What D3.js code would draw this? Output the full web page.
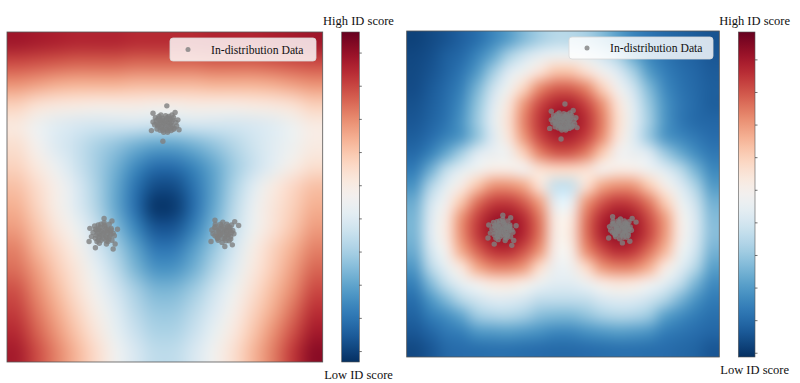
<!DOCTYPE html>
<html><head><meta charset="utf-8">
<script src="https://cdn.jsdelivr.net/npm/d3@7/dist/d3.min.js"></script>
<style>body{margin:0;background:#fff}svg{display:block}</style>
</head><body>
<svg id="chart" width="800" height="383"></svg>
<script>
// ---------------- data ----------------
const xDomain = [-4, 4];
const yDomain = [-4, 4];
const colorbarTicks = [0, 1, 2, 3, 4, 5, 6, 7, 8, 9];
const leftScoreDomain = [-0.33, 9.62];
const rightScoreDomain = [-0.13, 9.84];
const legendLabel = "In-distribution Data";
const highLabel = "High ID score";
const lowLabel = "Low ID score";

// cluster centres (data units)
const clusterCenters = [[0.0, 1.77], [-1.56, -0.88], [1.47, -0.86]];
// sample offsets of each cluster from its centre
const topClusterOffsets = [[0,0],[0.08,0.05],[-0.1,0.04],[0.15,-0.02],[-0.18,-0.05],[0.05,-0.12],[-0.06,0.14],[0.2,0.1],[-0.22,0.08],[0.1,0.18],[-0.12,-0.15],[0.24,-0.1],[-0.26,-0.02],[0.02,0.2],[0.16,-0.16],[-0.03,-0.2],[0.28,0.04],[-0.15,0.18],[0.12,0.02],[-0.08,-0.06],[0.04,0.1],[-0.2,-0.12],[0.22,0.16],[0.3,-0.05],[-0.3,0.05],[0.07,-0.2],[-0.1,0.22],[0.18,0.22],[-0.24,0.15],[0.33,0.1],[0.05,0.44],[-0.05,-0.42],[0.36,-0.14],[-0.34,-0.16],[0.26,0.28],[-0.3,0.26],
[0.03,-0.03],[-0.04,0.02],[0.1,-0.07],[-0.12,0.09],[0.13,0.11],[-0.14,-0.02],[0.06,0.15],[-0.02,-0.12],[0.19,-0.04],[-0.17,0.12],[0.08,-0.16],[-0.09,-0.1],[0.17,0.05],[0.0,0.08],[-0.07,0.1],[0.11,0.12],[0.22,-0.13],[-0.2,0.0],[0.14,-0.1],[-0.05,-0.15]];
const leftClusterOffsets = [[0,0],[0.1,0.06],[-0.09,-0.04],[0.16,-0.08],[-0.17,0.07],[0.04,0.16],[-0.05,-0.17],[0.2,0.12],[-0.2,-0.12],[0.12,-0.2],[-0.13,0.2],[0.25,0.0],[-0.26,0.02],[0.06,-0.08],[-0.04,0.08],[0.15,0.22],[-0.22,0.18],[0.22,-0.17],[-0.1,-0.24],[0.02,0.26],[0.28,-0.06],[-0.3,-0.08],[0.08,-0.26],[-0.16,-0.2],[0.18,0.04],[-0.12,0.1],[0.25,-0.38],[-0.2,-0.35],[0.22,0.3],[0.02,0.36],[-0.36,-0.2],[0.36,0.1],[-0.34,0.12],[0.3,-0.26],
[0.05,0.03],[-0.06,0.05],[0.09,-0.1],[-0.1,-0.09],[0.13,0.1],[-0.14,0.0],[0.0,-0.12],[0.07,0.12],[-0.08,0.15],[0.18,-0.02],[-0.18,-0.05],[0.1,0.0],[-0.03,-0.05],[0.14,-0.14],[-0.12,-0.16],[0.03,0.2],[0.2,0.08],[-0.2,0.1],[-0.06,0.22],[0.08,-0.18]];
const rightClusterOffsets = [[0,0],[0.09,-0.05],[-0.1,0.06],[0.14,0.1],[-0.15,-0.09],[0.05,-0.15],[-0.04,0.16],[0.2,-0.1],[-0.21,0.12],[0.1,0.2],[-0.12,-0.19],[0.25,0.05],[-0.25,-0.03],[0.04,0.08],[-0.06,-0.06],[0.16,-0.2],[-0.19,0.2],[0.22,0.18],[-0.02,-0.24],[0.0,0.25],[0.28,-0.03],[-0.28,0.06],[0.12,-0.08],[-0.1,0.02],[0.18,0.06],[-0.14,-0.14],[0.4,0.17],[-0.3,-0.22],[0.24,-0.3],[-0.2,0.3],[0.05,-0.34],[0.3,0.26],
[0.04,0.03],[-0.05,-0.03],[0.1,0.05],[-0.1,-0.05],[0.07,-0.1],[-0.08,0.1],[0.15,-0.04],[-0.16,0.04],[0.02,0.13],[-0.01,-0.14],[0.13,0.15],[-0.13,-0.13],[0.18,0.12],[-0.18,0.14],[0.2,-0.16],[0.08,-0.2],[-0.06,0.2],[0.12,0.02],[-0.2,-0.08],[0.22,0.0]];

// ID-score grid, left model (16 rows top->bottom, 16 columns left->right)
const leftScores = [
[8.8,8.7,8.6,8.5,8.5,8.5,8.4,8.4,8.4,8.4,8.5,8.5,8.5,8.6,8.7,8.8],
[7.9,7.8,7.7,7.6,7.6,7.6,7.5,7.5,7.5,7.5,7.6,7.6,7.6,7.7,7.8,7.9],
[6.9,6.7,6.5,6.4,6.4,6.4,6.3,6.3,6.3,6.3,6.4,6.4,6.4,6.5,6.7,6.9],
[5.8,5.4,5.2,5.1,5.0,5.0,5.0,4.9,4.9,5.0,5.0,5.0,5.1,5.2,5.4,5.8],
[5.1,4.5,4.1,3.9,3.8,3.8,3.8,3.7,3.7,3.8,3.8,3.8,3.9,4.1,4.5,5.0],
[5.4,4.7,4.0,3.6,3.1,2.7,2.3,2.0,2.0,2.3,2.7,3.2,3.7,4.1,4.5,5.0],
[5.7,5.1,4.4,3.7,3.0,2.3,1.5,0.9,0.9,1.4,2.1,2.9,3.6,4.2,4.9,5.4],
[6.1,5.5,4.8,4.0,3.1,2.1,1.0,0.2,0.2,1.0,2.0,3.1,4.1,5.0,5.6,6.1],
[6.4,5.7,4.9,4.1,3.2,2.1,0.9,-0.2,-0.1,0.9,2.1,3.3,4.4,5.2,5.8,6.4],
[6.7,6.0,5.2,4.5,3.6,2.5,1.4,0.4,0.4,1.3,2.4,3.5,4.5,5.3,6.0,6.7],
[7.1,6.3,5.6,4.9,3.9,3.0,2.0,1.1,1.1,1.9,2.8,3.8,4.9,5.7,6.4,7.1],
[7.4,6.7,5.9,5.2,4.3,3.4,2.4,1.7,1.7,2.3,3.2,4.1,5.1,5.9,6.7,7.5],
[7.8,7.0,6.2,5.4,4.6,3.8,3.0,2.4,2.4,2.9,3.7,4.5,5.4,6.2,7.0,7.9],
[8.1,7.3,6.5,5.7,4.9,4.1,3.3,2.8,2.8,3.3,4.0,4.8,5.7,6.5,7.4,8.3],
[8.4,7.6,6.8,6.0,5.2,4.3,3.6,3.1,3.1,3.6,4.3,5.1,6.0,6.9,7.8,8.7],
[8.7,7.9,7.1,6.3,5.5,4.6,3.9,3.4,3.4,3.9,4.6,5.4,6.3,7.2,8.2,9.1]
];

// ID-score grid, right model (20 rows top->bottom, 20 columns left->right)
const rightScores = [
[0.2,0.35,0.55,0.8,1.1,1.6,2.1,2.7,3.2,3.5,3.5,3.25,2.75,2.15,1.6,1.25,1.0,0.85,0.7,0.55],
[0.3,0.45,0.75,1.0,1.55,2.25,3.2,3.9,4.4,4.6,4.6,4.4,3.9,3.25,2.3,1.6,1.2,0.95,0.8,0.6],
[0.35,0.55,0.85,1.25,2.0,3.1,4.2,4.8,5.5,6.2,6.2,5.6,4.85,4.2,3.2,2.05,1.45,1.1,0.9,0.7],
[0.4,0.65,1.0,1.5,2.55,3.8,4.8,5.9,7.2,7.8,7.8,7.25,6.0,4.85,3.9,2.65,1.7,1.2,0.95,0.75],
[0.5,0.75,1.1,1.75,2.9,4.2,5.4,7.0,8.15,8.75,8.8,8.2,7.1,5.5,4.3,3.0,1.9,1.3,1.0,0.75],
[0.6,0.85,1.2,1.9,3.05,4.35,5.6,7.3,8.45,9.1,9.1,8.55,7.4,5.7,4.4,3.15,1.95,1.3,1.0,0.9],
[0.75,1.05,1.5,2.0,2.95,4.2,5.4,7.0,8.2,8.8,8.8,8.25,7.15,5.5,4.3,3.05,2.0,1.6,1.3,1.05],
[1.0,1.5,2.3,3.2,4.2,4.6,4.8,6.0,7.3,7.9,7.9,7.35,6.1,4.85,4.6,4.2,3.1,2.35,1.75,1.3],
[1.4,2.4,3.6,4.35,4.8,5.2,5.2,4.9,5.55,5.8,5.8,5.6,5.0,5.25,5.15,4.75,4.25,3.5,2.5,1.65],
[1.9,3.3,4.35,5.2,6.2,7.05,7.1,6.7,5.5,3.8,3.8,5.6,6.75,7.1,7.0,6.1,5.1,4.25,3.25,2.05],
[2.4,3.9,4.85,6.2,7.55,8.25,8.35,7.85,6.85,4.4,4.5,7.0,7.95,8.4,8.2,7.45,6.1,4.75,3.8,2.5],
[2.6,4.15,5.25,7.1,8.25,9.0,9.1,8.6,7.45,5.2,5.3,7.55,8.7,9.15,8.95,8.1,6.95,5.1,4.1,2.75],
[2.6,4.2,5.3,7.15,8.35,9.1,9.2,8.65,7.5,5.2,5.4,7.6,8.8,9.2,9.0,8.2,7.0,5.15,4.1,2.8],
[2.4,3.95,4.95,6.7,7.75,8.45,8.55,8.0,7.0,5.0,5.1,7.15,8.1,8.6,8.4,7.6,6.5,4.8,3.9,2.55],
[2.0,3.45,4.45,5.4,6.7,7.3,7.35,6.95,5.7,4.65,4.75,5.8,7.0,7.35,7.25,6.6,5.3,4.35,3.4,2.15],
[1.5,2.65,3.7,4.45,4.9,5.35,5.4,5.1,4.6,4.3,4.3,4.65,5.15,5.4,5.3,4.85,4.35,3.6,2.55,1.7],
[1.1,1.9,2.65,3.45,3.95,4.25,4.25,4.05,3.65,3.6,3.6,3.7,4.1,4.25,4.2,3.9,3.35,2.55,1.85,1.35],
[0.85,1.35,1.75,2.25,3.05,3.3,3.35,3.15,2.75,2.6,2.6,2.85,3.2,3.35,3.3,3.0,2.15,1.7,1.35,1.1],
[0.6,0.9,1.25,1.45,1.9,2.0,2.05,1.95,1.8,1.6,1.6,1.8,1.95,2.05,2.0,1.85,1.4,1.2,1.05,0.9],
[0.35,0.6,0.95,1.05,1.1,1.15,1.15,1.1,1.05,1.0,1.0,1.05,1.1,1.15,1.15,1.1,1.05,0.95,0.85,0.6]
];

// ---------------- layout ----------------
const FONT = "'Liberation Serif','Times New Roman',Times,serif";
const panels = [
  { id: "L", scores: leftScores, domain: leftScoreDomain,
    plot: { x0: 7, x1: 322.7, y0: 32, y1: 362 },
    cb: { x0: 341.7, x1: 359.3, y0: 32, y1: 362 },
    legend: { x: 170, y: 38, w: 146, h: 23 },
    highY: 25, lowY: 379 },
  { id: "R", scores: rightScores, domain: rightScoreDomain,
    plot: { x0: 406.7, x1: 719.3, y0: 31, y1: 357 },
    cb: { x0: 738.3, x1: 755, y0: 32, y1: 357 },
    legend: { x: 569, y: 37, w: 144, h: 22 },
    highY: 25, lowY: 374 }
];

const svg = d3.select("#chart");
const defs = svg.append("defs");
const points = [topClusterOffsets, leftClusterOffsets, rightClusterOffsets]
  .flatMap((offs, k) => offs.map(([dx, dy]) => ({ x: clusterCenters[k][0] + dx, y: clusterCenters[k][1] + dy })));

panels.forEach(p => {
  const color = d3.scaleSequential(t => d3.interpolateRdBu(1 - t)).domain(p.domain).clamp(true);
  const x = d3.scaleLinear().domain(xDomain).range([p.plot.x0, p.plot.x1]);
  const y = d3.scaleLinear().domain(yDomain).range([p.plot.y1, p.plot.y0]);
  const nr = p.scores.length, nc = p.scores[0].length;
  const gx = d3.scaleLinear().domain([0, nc]).range([p.plot.x0, p.plot.x1]);
  const gy = d3.scaleLinear().domain([0, nr]).range([p.plot.y0, p.plot.y1]);

  // small canvas: one pixel per grid cell
  const small = document.createElement("canvas");
  small.width = nc; small.height = nr;
  const sctx = small.getContext("2d");
  const img = sctx.createImageData(nc, nr);
  p.scores.forEach((row, j) => row.forEach((v, i) => {
    const c = d3.rgb(color(v));
    const o = (j * nc + i) * 4;
    img.data[o] = c.r; img.data[o + 1] = c.g; img.data[o + 2] = c.b; img.data[o + 3] = 255;
  }));
  sctx.putImageData(img, 0, 0);
  const W = Math.round(gx(nc) - gx(0)), H = Math.round(gy(nr) - gy(0));
  const big = document.createElement("canvas");
  big.width = W * 2; big.height = H * 2;
  const bctx = big.getContext("2d");
  bctx.imageSmoothingEnabled = true;
  bctx.imageSmoothingQuality = "high";
  bctx.drawImage(small, 0, 0, W * 2, H * 2);

  const g = svg.append("g");
  g.append("image")
    .attr("x", gx(0)).attr("y", gy(0))
    .attr("width", gx(nc) - gx(0)).attr("height", gy(nr) - gy(0))
    .attr("preserveAspectRatio", "none")
    .attr("href", big.toDataURL());

  // clip for scatter
  defs.append("clipPath").attr("id", "clip" + p.id)
    .append("rect").attr("x", p.plot.x0).attr("y", p.plot.y0)
    .attr("width", p.plot.x1 - p.plot.x0).attr("height", p.plot.y1 - p.plot.y0);

  g.append("g").attr("clip-path", `url(#clip${p.id})`)
    .selectAll("circle").data(points).join("circle")
    .attr("cx", d => x(d.x)).attr("cy", d => y(d.y)).attr("r", 2.7)
    .attr("fill", "#808080").attr("fill-opacity", 0.8);

  // frame
  g.append("rect").attr("x", p.plot.x0).attr("y", p.plot.y0)
    .attr("width", p.plot.x1 - p.plot.x0).attr("height", p.plot.y1 - p.plot.y0)
    .attr("fill", "none").attr("stroke", "#555").attr("stroke-width", 0.8);

  // legend
  const L = p.legend;
  const lg = g.append("g");
  lg.append("rect").attr("x", L.x).attr("y", L.y).attr("width", L.w).attr("height", L.h)
    .attr("rx", 3).attr("fill", "#fff").attr("fill-opacity", 0.82)
    .attr("stroke", "#d8d8d8").attr("stroke-width", 0.8);
  lg.append("circle").attr("cx", L.x + 18).attr("cy", L.y + L.h / 2).attr("r", 2.5)
    .attr("fill", "#808080").attr("fill-opacity", 0.8);
  lg.append("text").attr("x", L.x + 41).attr("y", L.y + L.h / 2 + 4)
    .attr("font-family", FONT).attr("font-size", 11.7).attr("fill", "#111")
    .text(legendLabel);

  // colorbar
  const gid = "grad" + p.id;
  const grad = defs.append("linearGradient").attr("id", gid)
    .attr("x1", 0).attr("y1", 1).attr("x2", 0).attr("y2", 0);
  d3.range(0, 1.0001, 0.025).forEach(t => {
    grad.append("stop").attr("offset", t).attr("stop-color", d3.interpolateRdBu(1 - t));
  });
  const cb = p.cb;
  g.append("rect").attr("x", cb.x0).attr("y", cb.y0).attr("width", cb.x1 - cb.x0).attr("height", cb.y1 - cb.y0)
    .attr("fill", `url(#${gid})`).attr("stroke", "#555").attr("stroke-width", 0.6);
  const cs = d3.scaleLinear().domain(p.domain).range([cb.y1, cb.y0]);
  const ax = g.append("g").attr("transform", `translate(${cb.x1},0)`)
    .call(d3.axisRight(cs).tickValues(colorbarTicks).tickSize(2.5).tickFormat(""));
  ax.select(".domain").remove();
  ax.selectAll("line").attr("stroke", "#333").attr("stroke-width", 0.7);

  const cx = (cb.x0 + cb.x1) / 2 + 8;
  g.append("text").attr("x", cx).attr("y", p.highY).attr("text-anchor", "middle")
    .attr("font-family", FONT).attr("font-size", 12.5).attr("fill", "#111").text(highLabel);
  g.append("text").attr("x", cx).attr("y", p.lowY).attr("text-anchor", "middle")
    .attr("font-family", FONT).attr("font-size", 12.5).attr("fill", "#111").text(lowLabel);
});
</script>
</body></html>
